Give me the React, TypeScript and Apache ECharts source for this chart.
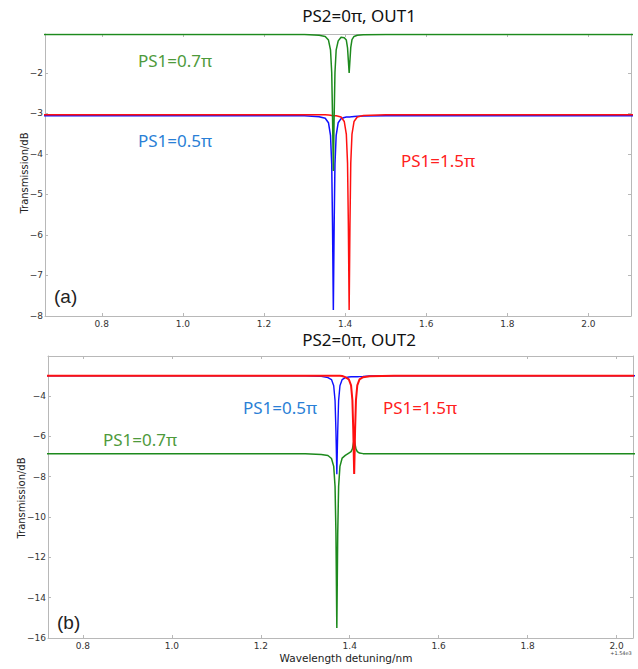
import React, { useEffect, useRef } from "react";
import * as echarts from "echarts";

// Wavelength detuning (nm, offset from 1540 nm)
const detuning = [0.6, 1.2, 1.3, 1.336, 1.351, 1.359, 1.364, 1.367, 1.369, 1.371, 1.373, 1.375, 1.378, 1.383, 1.39, 1.398, 1.403, 1.406, 1.408, 1.41, 1.412, 1.414, 1.417, 1.422, 1.43, 1.445, 1.5, 2.2];

// Panel (a): PS2=0π, OUT1
const out1Blue = [-3.06, -3.06, -3.06, -3.08, -3.12, -3.23, -3.54, -4.25, -5.75, -7.85, -5.75, -4.25, -3.54, -3.23, -3.13, -3.1, -3.09, -3.09, -3.09, -3.09, -3.09, -3.085, -3.08, -3.075, -3.07, -3.065, -3.06, -3.06];
const out1Red = [-3.03, -3.03, -3.03, -3.03, -3.035, -3.04, -3.045, -3.05, -3.055, -3.06, -3.06, -3.06, -3.06, -3.07, -3.09, -3.2, -3.51, -4.22, -5.72, -7.85, -5.72, -4.22, -3.51, -3.2, -3.09, -3.05, -3.03, -3.03];
const out1Green = [-1.05, -1.05, -1.05, -1.07, -1.1, -1.19, -1.43, -1.99, -3.08, -4.42, -3.08, -1.99, -1.43, -1.21, -1.12, -1.13, -1.19, -1.38, -1.69, -2.0, -1.68, -1.37, -1.18, -1.1, -1.07, -1.06, -1.05, -1.05];

// Panel (b): PS2=0π, OUT2
const out2Blue = [-3.0, -3.0, -3.0, -3.03, -3.09, -3.19, -3.5, -4.23, -5.75, -7.88, -5.75, -4.23, -3.5, -3.19, -3.09, -3.06, -3.05, -3.05, -3.05, -3.05, -3.05, -3.05, -3.045, -3.04, -3.03, -3.01, -3.0, -3.0];
const out2Red = [-3.0, -3.0, -3.0, -3.0, -3.0, -3.0, -3.0, -3.0, -3.0, -3.0, -3.0, -3.0, -3.0, -3.01, -3.07, -3.18, -3.48, -4.21, -5.73, -7.87, -5.73, -4.21, -3.48, -3.18, -3.07, -3.02, -3.0, -3.0];
const out2Green = [-6.87, -6.87, -6.87, -6.9, -6.95, -7.1, -7.49, -8.49, -10.82, -15.5, -10.82, -8.49, -7.49, -7.08, -6.95, -6.83, -6.76, -6.62, -6.39, -6.17, -6.39, -6.62, -6.76, -6.83, -6.86, -6.87, -6.87, -6.87];

// Tick labels
const xTicks = [0.8, 1.0, 1.2, 1.4, 1.6, 1.8, 2.0];
const yTicksTop = [-8, -7, -6, -5, -4, -3, -2];
const yTicksBottom = [-16, -14, -12, -10, -8, -6, -4];

const GREEN = "#1d8a1d";
const BLUE = "#1010ff";
const RED = "#ff1010";
const FRAME = "#b8b8b8";

const pairs = (ys: number[]) => detuning.map((x, i) => [x, ys[i]]);

function mkX(gi: number, min: number, max: number, pos: "top" | "bottom") {
  return {
    type: "value",
    gridIndex: gi,
    min,
    max,
    position: pos,
    axisLine: { show: true, onZero: false, lineStyle: { color: FRAME, width: 1 } },
    axisTick: { show: true, inside: true, length: 3, customValues: xTicks, lineStyle: { color: FRAME } },
    axisLabel:
      pos === "bottom"
        ? {
            show: true,
            customValues: xTicks,
            formatter: (v: number) => v.toFixed(1),
            fontFamily: "DejaVu Sans",
            fontSize: 9,
            color: "#333",
            margin: 3,
          }
        : { show: false },
    splitLine: { show: false },
  };
}

function mkY(gi: number, min: number, max: number, pos: "left" | "right", ticks: number[]) {
  return {
    type: "value",
    gridIndex: gi,
    min,
    max,
    position: pos,
    axisLine: { show: true, onZero: false, lineStyle: { color: FRAME, width: 1 } },
    axisTick: { show: true, inside: true, length: 3, customValues: ticks, lineStyle: { color: FRAME } },
    axisLabel:
      pos === "left"
        ? {
            show: true,
            customValues: ticks,
            formatter: (v: number) => String(v).replace("-", "\u2212"),
            fontFamily: "DejaVu Sans",
            fontSize: 9,
            color: "#333",
            margin: 2,
          }
        : { show: false },
    splitLine: { show: false },
  };
}

function line(name: string, ys: number[], color: string, xi: number, yi: number, width = 1.5) {
  return {
    name,
    type: "line",
    xAxisIndex: xi,
    yAxisIndex: yi,
    data: pairs(ys),
    showSymbol: false,
    symbol: "none",
    clip: true,
    lineStyle: { color, width },
    itemStyle: { color },
  };
}

function txt(text: string, x: number, y: number, color: string, size: number, family: string, align = "left", rotation = 0) {
  return {
    type: "text",
    x,
    y,
    rotation,
    z: 100,
    style: {
      text,
      fill: color,
      fontSize: size,
      fontFamily: family,
      align,
      verticalAlign: "middle",
      textAlign: align,
      textVerticalAlign: "middle",
    },
  };
}

export default function App() {
  const ref = useRef<HTMLDivElement>(null);
  useEffect(() => {
    if (!ref.current) return;
    const chart = echarts.init(ref.current, null, { renderer: "svg" });
    const SANS = "Noto Sans";
    chart.setOption({
      animation: false,
      backgroundColor: "#ffffff",
      grid: [
        { left: 45, top: 34, right: 7, height: 282 },
        { left: 48, top: 356, right: 5, height: 282 },
      ],
      xAxis: [
        mkX(0, 0.66, 2.105, "bottom"),
        mkX(0, 0.66, 2.105, "top"),
        mkX(1, 0.7215, 2.037, "bottom"),
        mkX(1, 0.7215, 2.037, "top"),
      ],
      yAxis: [
        mkY(0, -8, -1.04, "left", yTicksTop),
        mkY(0, -8, -1.04, "right", yTicksTop),
        mkY(1, -16, -2.02, "left", yTicksBottom),
        mkY(1, -16, -2.02, "right", yTicksBottom),
      ],
      series: [
        line("OUT1 PS1=0.5π", out1Blue, BLUE, 0, 0),
        line("OUT1 PS1=1.5π", out1Red, RED, 0, 0),
        line("OUT1 PS1=0.7π", out1Green, GREEN, 0, 0),
        line("OUT2 PS1=0.7π", out2Green, GREEN, 2, 2),
        line("OUT2 PS1=0.5π", out2Blue, BLUE, 2, 2, 1.4),
        line("OUT2 PS1=1.5π", out2Red, RED, 2, 2, 2),
      ],
      graphic: [
        txt("PS2=0π, OUT1", 359, 15, "#111", 17, SANS, "center"),
        txt("PS2=0π, OUT2", 359, 339, "#111", 17, SANS, "center"),
        txt("PS1=0.7π", 138, 60, "#4e9a3b", 17, SANS),
        txt("PS1=0.5π", 138, 140, "#2a7fd6", 17, SANS),
        txt("PS1=1.5π", 401, 160, "#ff2020", 17, SANS),
        txt("PS1=0.5π", 243, 407, "#2a7fd6", 17, SANS),
        txt("PS1=0.7π", 103, 439, "#4e9a3b", 17, SANS),
        txt("PS1=1.5π", 383, 407, "#ff2020", 17, SANS),
        txt("(a)", 54, 296, "#222", 19, "Liberation Sans"),
        txt("(b)", 57, 622, "#222", 19, "Liberation Sans"),
        txt("Transmission/dB", 24, 173, "#222", 10, "DejaVu Sans", "center", Math.PI / 2),
        txt("Transmission/dB", 21, 498, "#222", 10, "DejaVu Sans", "center", Math.PI / 2),
        txt("Wavelength detuning/nm", 346, 658, "#222", 10.5, "DejaVu Sans", "center"),
        txt("+1.54e3", 621, 653, "#444", 5, "DejaVu Sans", "center"),
      ],
    });
    return () => chart.dispose();
  }, []);
  return (
    <div
      ref={ref}
      style={{ position: "fixed", left: 0, top: 0, width: 638, height: 669, background: "#fff" }}
    />
  );
}
